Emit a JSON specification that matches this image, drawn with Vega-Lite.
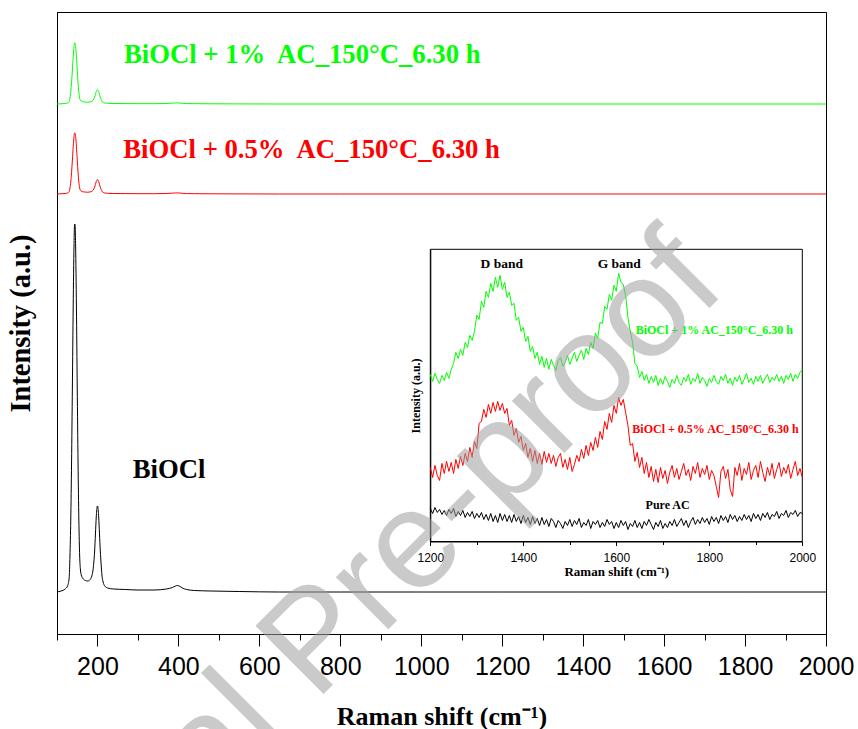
{
  "$schema": "https://vega.github.io/schema/vega-lite/v6.json",
  "width": 769,
  "height": 622,
  "autosize": {"type": "none"},
  "padding": {"left": 57, "top": 12, "right": 32, "bottom": 95},
  "background": "white",
  "config": {"view": {"stroke": "black", "strokeWidth": 1}},
  "datasets": {
    "main": [
      {"x":100,"k":40,"r":438,"g":528},{"x":110,"k":41,"r":438.2,"g":528.2},{"x":120,"k":43,"r":438.5,"g":528.5},{"x":126,"k":46,"r":439,"g":529},
      {"x":130,"k":54,"r":440.3,"g":530.3},{"x":132,"k":76,"r":444,"g":534},{"x":134,"k":112,"r":450,"g":540},{"x":136,"k":170,"r":459.6,"g":549.6},
      {"x":138,"k":245,"r":472,"g":562},{"x":140,"k":325,"r":485.3,"g":575.3},{"x":142,"k":386,"r":495.4,"g":585.4},{"x":143,"k":404,"r":498.4,"g":588.4},
      {"x":144,"k":408,"r":499.1,"g":589.1},{"x":145,"k":404,"r":498.4,"g":588.4},{"x":146,"k":386,"r":495.4,"g":585.4},{"x":148,"k":325,"r":485.3,"g":575.3},
      {"x":150,"k":245,"r":472,"g":562},{"x":152,"k":170,"r":459.6,"g":549.6},{"x":154,"k":112,"r":450,"g":540},{"x":156,"k":76,"r":444,"g":534},
      {"x":158,"k":62,"r":441.7,"g":531.7},{"x":160,"k":57,"r":440.8,"g":530.8},{"x":165,"k":53,"r":440.2,"g":530.2},{"x":170,"k":51.5,"r":439.9,"g":529.9},
      {"x":176,"k":51,"r":439.8,"g":529.8},{"x":182,"k":52.5,"r":440.1,"g":530.1},{"x":186,"k":56,"r":440.7,"g":530.7},{"x":189,"k":62,"r":441.7,"g":531.7},
      {"x":191,"k":70,"r":443,"g":533},{"x":193,"k":81,"r":444.8,"g":534.8},{"x":195,"k":98,"r":447.6,"g":537.6},{"x":197,"k":115,"r":450.5,"g":540.5},
      {"x":199,"k":125,"r":452.1,"g":542.1},{"x":200,"k":126,"r":452.3,"g":542.3},{"x":201,"k":125,"r":452.1,"g":542.1},{"x":203,"k":115,"r":450.5,"g":540.5},
      {"x":205,"k":98,"r":447.6,"g":537.6},{"x":207,"k":81,"r":444.8,"g":534.8},{"x":209,"k":68,"r":442.6,"g":532.6},{"x":211,"k":57,"r":440.8,"g":530.8},
      {"x":214,"k":50,"r":439.7,"g":529.7},{"x":218,"k":46,"r":439,"g":529},{"x":225,"k":44,"r":438.7,"g":528.7},{"x":240,"k":43,"r":438.5,"g":528.5},
      {"x":270,"k":42.5,"r":438.4,"g":528.4},{"x":300,"k":42,"r":438.3,"g":528.3},{"x":340,"k":42,"r":438.3,"g":528.3},{"x":370,"k":43,"r":438.5,"g":528.5},
      {"x":385,"k":44.5,"r":438.9,"g":528.9},{"x":393,"k":46,"r":439,"g":529},{"x":397,"k":46.5,"r":439.1,"g":529.1},{"x":402,"k":46,"r":439,"g":529},
      {"x":410,"k":44,"r":438.7,"g":528.7},{"x":420,"k":42.5,"r":438.4,"g":528.4},{"x":440,"k":41.5,"r":438.3,"g":528.3},{"x":480,"k":41,"r":438.2,"g":528.2},
      {"x":550,"k":40.5,"r":438.1,"g":528.1},{"x":650,"k":40,"r":438,"g":528},{"x":800,"k":40,"r":438,"g":528},{"x":1000,"k":40,"r":438,"g":528},
      {"x":1200,"k":40,"r":438,"g":528},{"x":1400,"k":40,"r":438,"g":528},{"x":1600,"k":40,"r":438,"g":528},{"x":1800,"k":40,"r":438,"g":528},
      {"x":2000,"k":40,"r":438,"g":528}
    ],
    "mainLabels": [
      {"x":265.5,"v":569,"s":"g","t":"BiOCl + 1%\u00a0 AC_150°C_6.30 h"},
      {"x":263.8,"v":474,"s":"r","t":"BiOCl + 0.5%\u00a0 AC_150°C_6.30 h"},
      {"x":287,"v":154,"s":"k","t":"BiOCl"}
    ],
    "inset": [
      {"x":1200,"g":167,"r":74,"k":33},{"x":1205,"g":160,"r":64,"k":28},{"x":1210,"g":168,"r":76,"k":34},{"x":1215,"g":162,"r":66,"k":29},
      {"x":1220,"g":158,"r":61,"k":32},{"x":1225,"g":166,"r":78,"k":27},{"x":1230,"g":161,"r":68,"k":31},{"x":1235,"g":169,"r":80,"k":26},
      {"x":1240,"g":163,"r":70,"k":32},{"x":1245,"g":172,"r":79,"k":28},{"x":1250,"g":178,"r":68,"k":33},{"x":1255,"g":189,"r":82,"k":25},
      {"x":1260,"g":183,"r":73,"k":30},{"x":1265,"g":192,"r":85,"k":26},{"x":1270,"g":186,"r":76,"k":31},{"x":1275,"g":199,"r":88,"k":24},
      {"x":1280,"g":194,"r":80,"k":29},{"x":1285,"g":206,"r":94,"k":25},{"x":1290,"g":201,"r":84,"k":30},{"x":1295,"g":210,"r":100,"k":23},
      {"x":1300,"g":226,"r":93,"k":28},{"x":1305,"g":222,"r":118,"k":24},{"x":1310,"g":240,"r":120,"k":29},{"x":1315,"g":234,"r":132,"k":22},
      {"x":1320,"g":250,"r":124,"k":27},{"x":1325,"g":244,"r":137,"k":21},{"x":1330,"g":258,"r":128,"k":28},{"x":1335,"g":250,"r":139,"k":20},
      {"x":1340,"g":264,"r":130,"k":26},{"x":1345,"g":254,"r":140,"k":19},{"x":1350,"g":266,"r":131,"k":28},{"x":1355,"g":252,"r":138,"k":21},
      {"x":1360,"g":259,"r":128,"k":27},{"x":1365,"g":244,"r":133,"k":20},{"x":1370,"g":249,"r":116,"k":26},{"x":1375,"g":236,"r":121,"k":19},
      {"x":1380,"g":238,"r":106,"k":27},{"x":1385,"g":221,"r":113,"k":20},{"x":1390,"g":224,"r":99,"k":25},{"x":1395,"g":210,"r":105,"k":18},
      {"x":1400,"g":214,"r":91,"k":26},{"x":1405,"g":200,"r":98,"k":19},{"x":1410,"g":205,"r":84,"k":24},{"x":1415,"g":190,"r":93,"k":17},
      {"x":1420,"g":195,"r":80,"k":25},{"x":1425,"g":183,"r":91,"k":18},{"x":1430,"g":189,"r":78,"k":23},{"x":1435,"g":177,"r":88,"k":16},
      {"x":1440,"g":185,"r":77,"k":24},{"x":1445,"g":174,"r":90,"k":17},{"x":1450,"g":183,"r":79,"k":22},{"x":1455,"g":172,"r":88,"k":15},
      {"x":1460,"g":182,"r":78,"k":23},{"x":1465,"g":176,"r":86,"k":20},{"x":1470,"g":171,"r":75,"k":14},{"x":1475,"g":181,"r":84,"k":21},
      {"x":1480,"g":184,"r":88,"k":18},{"x":1485,"g":175,"r":74,"k":13},{"x":1490,"g":179,"r":82,"k":20},{"x":1495,"g":186,"r":72,"k":16},
      {"x":1500,"g":177,"r":84,"k":22},{"x":1505,"g":183,"r":70,"k":15},{"x":1510,"g":189,"r":77,"k":21},{"x":1515,"g":180,"r":86,"k":17},
      {"x":1520,"g":186,"r":80,"k":23},{"x":1525,"g":191,"r":92,"k":14},{"x":1530,"g":182,"r":83,"k":19},{"x":1535,"g":193,"r":96,"k":16},
      {"x":1540,"g":187,"r":86,"k":22},{"x":1545,"g":199,"r":99,"k":13},{"x":1550,"g":193,"r":91,"k":20},{"x":1555,"g":208,"r":104,"k":17},
      {"x":1560,"g":203,"r":94,"k":21},{"x":1565,"g":219,"r":110,"k":14},{"x":1570,"g":218,"r":102,"k":19},{"x":1575,"g":235,"r":120,"k":15},
      {"x":1580,"g":232,"r":112,"k":22},{"x":1585,"g":247,"r":128,"k":17},{"x":1590,"g":241,"r":119,"k":20},{"x":1595,"g":256,"r":136,"k":13},
      {"x":1600,"g":250,"r":128,"k":19},{"x":1605,"g":268,"r":144,"k":14},{"x":1610,"g":259,"r":136,"k":21},{"x":1615,"g":257,"r":142,"k":16},
      {"x":1620,"g":246,"r":129,"k":20},{"x":1625,"g":224,"r":116,"k":12},{"x":1630,"g":210,"r":96,"k":18},{"x":1635,"g":199,"r":98,"k":15},
      {"x":1640,"g":178,"r":80,"k":21},{"x":1645,"g":175,"r":89,"k":14},{"x":1650,"g":164,"r":74,"k":19},{"x":1655,"g":170,"r":84,"k":13},
      {"x":1660,"g":161,"r":68,"k":20},{"x":1665,"g":167,"r":79,"k":16},{"x":1670,"g":158,"r":64,"k":22},{"x":1675,"g":165,"r":75,"k":17},
      {"x":1680,"g":159,"r":60,"k":12},{"x":1685,"g":166,"r":72,"k":19},{"x":1690,"g":156,"r":59,"k":15},{"x":1695,"g":163,"r":74,"k":21},
      {"x":1700,"g":157,"r":63,"k":13},{"x":1705,"g":165,"r":71,"k":18},{"x":1710,"g":160,"r":58,"k":14},{"x":1715,"g":154,"r":69,"k":20},
      {"x":1720,"g":162,"r":76,"k":16},{"x":1725,"g":158,"r":64,"k":22},{"x":1730,"g":166,"r":73,"k":15},{"x":1735,"g":159,"r":62,"k":19},
      {"x":1740,"g":156,"r":70,"k":23},{"x":1745,"g":164,"r":78,"k":16},{"x":1750,"g":160,"r":66,"k":21},{"x":1755,"g":167,"r":72,"k":14},
      {"x":1760,"g":157,"r":61,"k":20},{"x":1765,"g":163,"r":75,"k":24},{"x":1770,"g":160,"r":68,"k":17},{"x":1775,"g":168,"r":79,"k":22},
      {"x":1780,"g":158,"r":64,"k":18},{"x":1785,"g":164,"r":73,"k":24},{"x":1790,"g":161,"r":67,"k":19},{"x":1795,"g":155,"r":76,"k":23},
      {"x":1800,"g":163,"r":62,"k":17},{"x":1805,"g":159,"r":71,"k":25},{"x":1810,"g":166,"r":66,"k":20},{"x":1815,"g":160,"r":55,"k":24},
      {"x":1820,"g":157,"r":44,"k":18},{"x":1825,"g":165,"r":70,"k":26},{"x":1830,"g":161,"r":75,"k":21},{"x":1835,"g":167,"r":63,"k":25},
      {"x":1840,"g":158,"r":72,"k":19},{"x":1845,"g":163,"r":52,"k":27},{"x":1850,"g":156,"r":45,"k":22},{"x":1855,"g":164,"r":74,"k":26},
      {"x":1860,"g":160,"r":66,"k":20},{"x":1865,"g":166,"r":78,"k":25},{"x":1870,"g":157,"r":61,"k":21},{"x":1875,"g":162,"r":73,"k":27},
      {"x":1880,"g":168,"r":67,"k":22},{"x":1885,"g":159,"r":79,"k":26},{"x":1890,"g":163,"r":62,"k":20},{"x":1895,"g":157,"r":71,"k":28},
      {"x":1900,"g":165,"r":76,"k":23},{"x":1905,"g":160,"r":64,"k":27},{"x":1910,"g":166,"r":80,"k":21},{"x":1915,"g":158,"r":69,"k":28},
      {"x":1920,"g":163,"r":60,"k":24},{"x":1925,"g":167,"r":74,"k":29},{"x":1930,"g":159,"r":66,"k":22},{"x":1935,"g":164,"r":78,"k":27},
      {"x":1940,"g":161,"r":63,"k":25},{"x":1945,"g":167,"r":72,"k":30},{"x":1950,"g":160,"r":79,"k":23},{"x":1955,"g":165,"r":65,"k":28},
      {"x":1960,"g":158,"r":74,"k":26},{"x":1965,"g":166,"r":68,"k":31},{"x":1970,"g":162,"r":77,"k":24},{"x":1975,"g":168,"r":63,"k":29},
      {"x":1980,"g":160,"r":72,"k":27},{"x":1985,"g":167,"r":80,"k":31},{"x":1990,"g":163,"r":66,"k":25},{"x":1995,"g":169,"r":73,"k":29},
      {"x":2000,"g":172,"r":64,"k":28}
    ],
    "insetLabels": [
      {"x":1641.7,"v":207,"s":"g","t":"BiOCl + 1% AC_150°C_6.30 h"},
      {"x":1634.4,"v":108,"s":"r","t":"BiOCl + 0.5% AC_150°C_6.30 h"},
      {"x":1663,"v":32,"s":"k","t":"Pure AC"}
    ],
    "bands": [
      {"x":1308,"v":273,"t":"D band"},
      {"x":1560,"v":273,"t":"G band"}
    ],
    "frame": [{"x":1200,"x2":2000,"v":0,"v2":292}],
    "watermark": [{"x":740,"v":-10,"t":"Journal Pre-proof"}]
  },
  "resolve": {"scale": {"x": "independent", "y": "independent"}, "axis": {"x": "independent", "y": "independent"}},
  "layer": [
    {
      "layer": [
        {
          "data": {"name": "main"},
          "transform": [{"fold": ["k", "r", "g"], "as": ["s", "v"]}],
          "mark": {"type": "line", "strokeWidth": 1, "interpolate": "monotone"},
          "encoding": {
            "x": {
              "field": "x", "type": "quantitative",
              "scale": {"domain": [100, 2000], "nice": false, "zero": false},
              "axis": {
                "orient": "bottom",
                "values": [100,200,300,400,500,600,700,800,900,1000,1100,1200,1300,1400,1500,1600,1700,1800,1900,2000],
                "format": "d",
                "labelExpr": "datum.value % 200 === 0 ? datum.label : ''",
                "tickSize": {"condition": {"test": "datum.value % 200 === 0", "value": 12}, "value": 6},
                "tickColor": "black", "domainColor": "black", "grid": false,
                "labelFont": "Liberation Sans", "labelFontSize": 25, "labelColor": "black", "labelPadding": 8,
                "labelFlush": false, "labelOverlap": false,
                "title": "Raman shift (cm⁻¹)", "titleFont": "Liberation Serif", "titleFontSize": 26,
                "titleFontWeight": "bold", "titleColor": "black", "titlePadding": 24
              }
            },
            "y": {
              "field": "v", "type": "quantitative",
              "scale": {"domain": [-2, 620], "nice": false, "zero": false},
              "axis": {
                "orient": "left", "ticks": false, "labels": false, "grid": false, "domainColor": "black",
                "title": "Intensity (a.u.)", "titleFont": "Liberation Serif", "titleFontSize": 28.5,
                "titleFontWeight": "bold", "titleColor": "black", "titlePadding": 22
              }
            },
            "color": {
              "field": "s", "type": "nominal",
              "scale": {"domain": ["k", "r", "g"], "range": ["#000000", "#ff0000", "#00ff00"]},
              "legend": null
            }
          }
        },
        {
          "data": {"name": "mainLabels"},
          "mark": {"type": "text", "font": "Liberation Serif", "fontWeight": "bold", "fontSize": 26.7, "align": "left", "baseline": "alphabetic"},
          "encoding": {
            "x": {"field": "x", "type": "quantitative"},
            "y": {"field": "v", "type": "quantitative"},
            "text": {"field": "t"},
            "color": {"field": "s", "type": "nominal", "legend": null}
          }
        }
      ]
    },
    {
      "layer": [
        {
          "data": {"name": "frame"},
          "mark": {"type": "rect", "filled": false, "stroke": "black", "strokeWidth": 1},
          "encoding": {
            "x": {"field": "x", "type": "quantitative"},
            "x2": {"field": "x2"},
            "y": {"field": "v", "type": "quantitative"},
            "y2": {"field": "v2"}
          }
        },
        {
          "data": {"name": "inset"},
          "transform": [{"fold": ["k", "r", "g"], "as": ["s", "v"]}],
          "mark": {"type": "line", "strokeWidth": 1},
          "encoding": {
            "x": {
              "field": "x", "type": "quantitative",
              "scale": {"domain": [1200, 2000], "range": [373.3, 745.3], "nice": false, "zero": false},
              "axis": {
                "orient": "bottom", "offset": -92.5,
                "values": [1200,1300,1400,1500,1600,1700,1800,1900,2000],
                "format": "d",
                "labelExpr": "datum.value % 200 === 0 ? datum.label : ''",
                "tickSize": {"condition": {"test": "datum.value % 200 === 0", "value": 4}, "value": 3},
                "tickColor": "black", "domainColor": "black", "grid": false,
                "labelFont": "Liberation Sans", "labelFontSize": 12, "labelColor": "black", "labelPadding": 7,
                "labelFlush": false, "labelOverlap": false,
                "title": "Raman shift (cm⁻¹)", "titleFont": "Liberation Serif", "titleFontSize": 13,
                "titleFontWeight": "bold", "titleColor": "black", "titlePadding": 2
              }
            },
            "y": {
              "field": "v", "type": "quantitative",
              "scale": {"domain": [0, 292], "range": [529.5, 237.3], "nice": false, "zero": false},
              "axis": {
                "orient": "left", "offset": -373.3, "ticks": false, "labels": false, "grid": false, "domainColor": "black",
                "title": "Intensity (a.u.)", "titleFont": "Liberation Serif", "titleFontSize": 12,
                "titleFontWeight": "bold", "titleColor": "black", "titlePadding": 8
              }
            },
            "color": {"field": "s", "type": "nominal", "legend": null}
          }
        },
        {
          "data": {"name": "insetLabels"},
          "mark": {"type": "text", "font": "Liberation Serif", "fontWeight": "bold", "fontSize": 12, "align": "left", "baseline": "alphabetic"},
          "encoding": {
            "x": {"field": "x", "type": "quantitative"},
            "y": {"field": "v", "type": "quantitative"},
            "text": {"field": "t"},
            "color": {"field": "s", "type": "nominal", "legend": null}
          }
        },
        {
          "data": {"name": "bands"},
          "mark": {"type": "text", "font": "Liberation Serif", "fontWeight": "bold", "fontSize": 13.5, "align": "left", "baseline": "alphabetic", "color": "black"},
          "encoding": {
            "x": {"field": "x", "type": "quantitative"},
            "y": {"field": "v", "type": "quantitative"},
            "text": {"field": "t"}
          }
        }
      ]
    },
    {
      "data": {"name": "watermark"},
      "mark": {"type": "text", "font": "Liberation Sans", "fontSize": 140, "angle": -45, "align": "center", "baseline": "middle", "color": "#a0a0a0", "opacity": 0.55},
      "encoding": {
        "x": {"field": "x", "type": "quantitative", "scale": {"domain": [100, 2000], "nice": false, "zero": false}, "axis": null},
        "y": {"field": "v", "type": "quantitative", "scale": {"domain": [-2, 620], "nice": false, "zero": false}, "axis": null},
        "text": {"field": "t"}
      }
    }
  ]
}
